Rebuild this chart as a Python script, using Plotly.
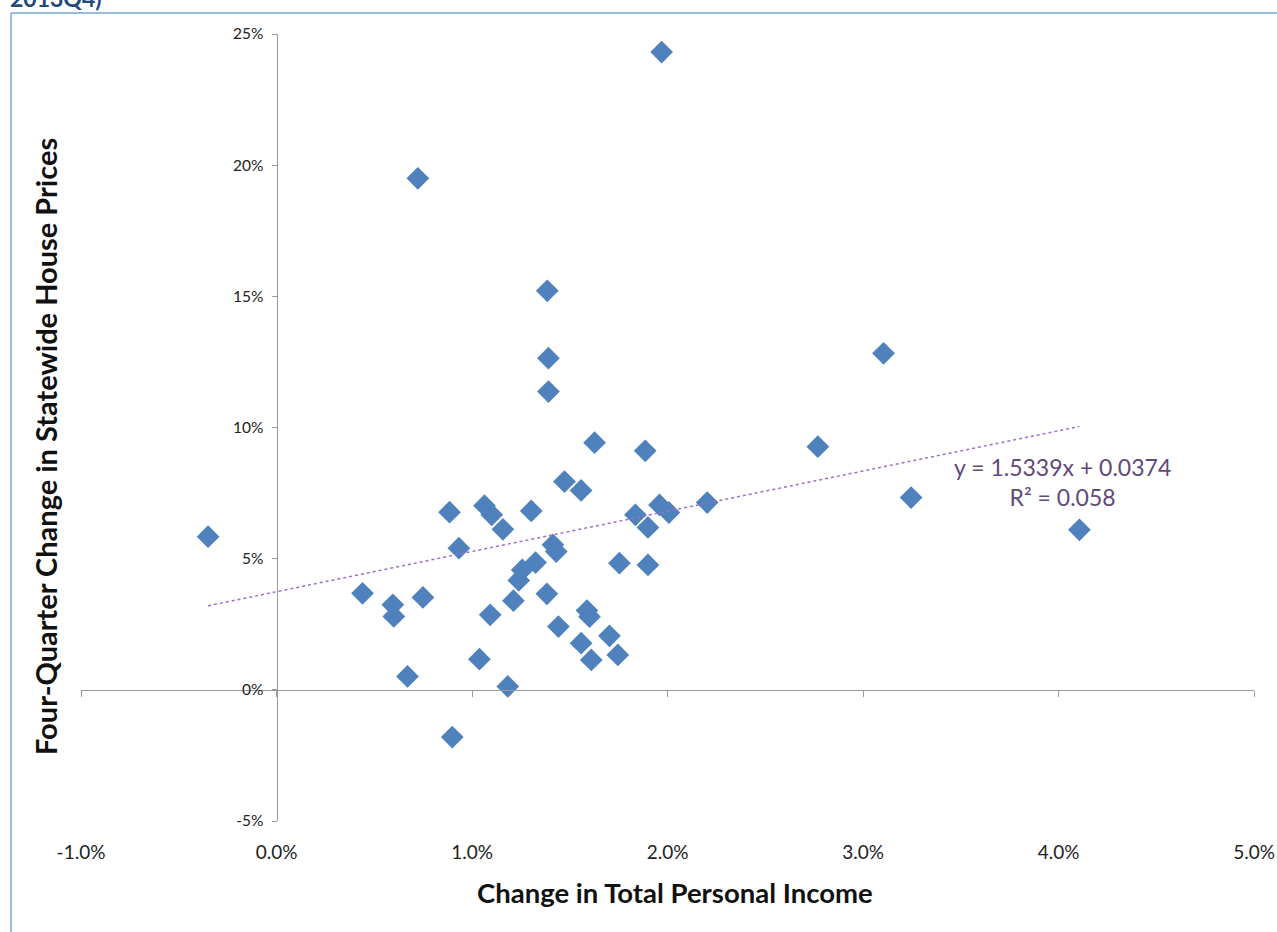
import plotly.graph_objects as go

# Data (percent units)
income_change_pct = [-0.35, 0.44, 0.595, 0.60, 0.67, 0.723, 0.749, 0.885, 0.899, 0.933,
                     1.038, 1.064, 1.093, 1.101, 1.158, 1.183, 1.212, 1.239, 1.257, 1.303,
                     1.325, 1.383, 1.385, 1.391, 1.391, 1.414, 1.431, 1.442, 1.473, 1.558,
                     1.558, 1.588, 1.601, 1.610, 1.627, 1.703, 1.746, 1.754, 1.836, 1.886,
                     1.900, 1.900, 1.959, 1.970, 2.007, 2.203, 2.769, 3.105, 3.246, 4.107]
house_price_change_pct = [5.84, 3.68, 3.24, 2.80, 0.51, 19.50, 3.52, 6.77, -1.80, 5.40,
                          1.17, 7.02, 2.86, 6.67, 6.12, 0.13, 3.40, 4.17, 4.57, 6.82,
                          4.85, 3.66, 15.21, 12.64, 11.37, 5.53, 5.27, 2.41, 7.94, 7.60,
                          1.78, 3.02, 2.79, 1.14, 9.42, 2.06, 1.33, 4.83, 6.67, 9.11,
                          6.19, 4.76, 7.05, 24.31, 6.76, 7.14, 9.27, 12.83, 7.33, 6.10]

trend_slope = 1.5339
trend_intercept = 0.0374
trend_r2 = 0.058

x_tickvals = [-1, 0, 1, 2, 3, 4, 5]
x_ticktext = ["-1.0%", "0.0%", "1.0%", "2.0%", "3.0%", "4.0%", "5.0%"]
y_tickvals = [-5, 0, 5, 10, 15, 20, 25]
y_ticktext = ["-5%", "0%", "5%", "10%", "15%", "20%", "25%"]

x_range = [-1, 5]
y_range = [-5, 25]

FONT = "Lato, Carlito, 'Open Sans', sans-serif"
AXIS_COLOR = "#9a9a9a"

# trendline endpoints from data extent
tx = [min(income_change_pct), max(income_change_pct)]
ty = [100 * (trend_slope * v / 100 + trend_intercept) for v in tx]

fig = go.Figure()
fig.add_trace(go.Scatter(
    x=income_change_pct, y=house_price_change_pct, mode="markers",
    marker=dict(symbol="diamond", size=17.5, color="#4F81BD", line=dict(width=0)),
    showlegend=False, hoverinfo="x+y"))
fig.add_trace(go.Scatter(
    x=tx, y=ty, mode="lines",
    line=dict(color="#9B6FCC", width=1.5, dash="dot"),
    showlegend=False, hoverinfo="skip"))
# invisible trace to carry the zero-line axis
fig.add_trace(go.Scatter(x=[x_range[0]], y=[0], xaxis="x2", mode="markers",
                         marker=dict(opacity=0), showlegend=False, hoverinfo="skip"))

y0_pos = (0 - y_range[0]) / (y_range[1] - y_range[0])
x0_pos = (0 - x_range[0]) / (x_range[1] - x_range[0])

fig.update_layout(
    width=1277, height=932,
    margin=dict(l=81, r=23, t=34, b=111),
    paper_bgcolor="white", plot_bgcolor="white",
    font=dict(family=FONT, color="#222222"),
    xaxis=dict(range=x_range, domain=[0, 1], tickvals=x_tickvals, ticktext=x_ticktext,
               showgrid=False, zeroline=False, showline=False, ticks="",
               ticklabelstandoff=18, automargin=False,
               tickfont=dict(size=19, family=FONT, color="#222222")),
    xaxis2=dict(range=x_range, overlaying="x", anchor="free", position=y0_pos,
                showgrid=False, zeroline=False, showline=True, linecolor=AXIS_COLOR,
                linewidth=1, ticks="outside", ticklen=6, tickcolor=AXIS_COLOR,
                tickvals=x_tickvals, showticklabels=False, automargin=False),
    yaxis=dict(range=y_range, domain=[0, 1], anchor="free", position=x0_pos,
               tickvals=y_tickvals, ticktext=y_ticktext, automargin=False,
               showgrid=False, zeroline=False, showline=True, linecolor=AXIS_COLOR,
               linewidth=1, ticks="outside", ticklen=5, tickcolor=AXIS_COLOR,
               ticklabelstandoff=5,
               tickfont=dict(size=15.5, family=FONT, color="#222222")),
)

ann = [
    dict(text="<b>Change in Total Personal Income</b>", xref="paper", yref="paper",
         x=(675 - 81) / 1173, y=(821 - 893) / 787, xanchor="center", yanchor="middle",
         showarrow=False, font=dict(size=27.5, family=FONT, color="#111111")),
    dict(text="<b>Four-Quarter Change in Statewide House Prices</b>", xref="paper", yref="paper",
         x=(45 - 81) / 1173, y=(821 - 447) / 787, xanchor="center", yanchor="middle",
         textangle=-90, showarrow=False, font=dict(size=29, family=FONT, color="#111111")),
    dict(text=f"y = {trend_slope}x + {trend_intercept}<br>R² = {trend_r2}",
         xref="paper", yref="paper", x=(1062 - 81) / 1173, y=(821 - 482) / 787,
         xanchor="center", yanchor="middle", align="center", showarrow=False,
         font=dict(size=23, family=FONT, color="#5F497A")),
    dict(text="<b>2013Q4)</b>", xref="paper", yref="paper",
         x=(8 - 81) / 1173, y=(821 - 14) / 787, xanchor="left", yanchor="bottom",
         showarrow=False, font=dict(size=23, family=FONT, color="#1F497D")),
]
fig.update_layout(annotations=ann)

border = "#7BA4D9"
fig.update_layout(shapes=[
    dict(type="line", xref="paper", yref="paper",
         x0=(11 - 81) / 1173, x1=(1290 - 81) / 1173,
         y0=(821 - 13) / 787, y1=(821 - 13) / 787, line=dict(color=border, width=1.5)),
    dict(type="line", xref="paper", yref="paper",
         x0=(11 - 81) / 1173, x1=(11 - 81) / 1173,
         y0=(821 - 13) / 787, y1=(821 - 945) / 787, line=dict(color=border, width=1.5)),
])

fig.write_html("out.html", config={"displayModeBar": False},
               post_script="document.body.style.margin='0';document.body.style.overflow='hidden';")
